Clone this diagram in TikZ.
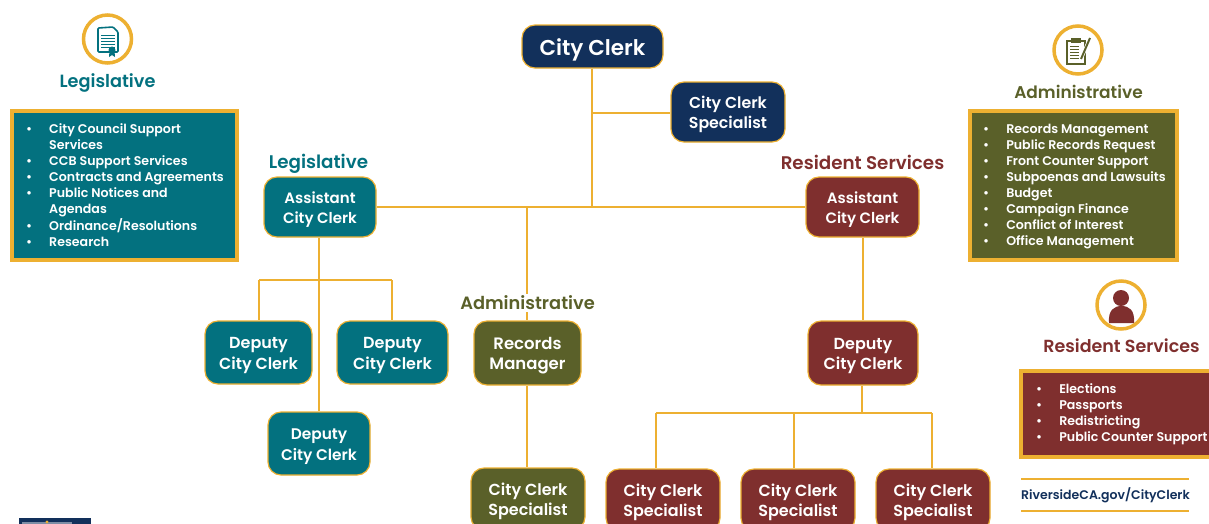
\documentclass[tikz,border=0pt]{standalone}
\usepackage{fontspec}
\setmainfont{Poppins}[BoldFont=Poppins SemiBold]
\definecolor{tealbox}{HTML}{03717F}
\definecolor{olivebox}{HTML}{5A6029}
\definecolor{maroonbox}{HTML}{7F2F2E}
\definecolor{navybox}{HTML}{12305B}
\definecolor{goldline}{HTML}{EDB031}
\tikzset{
  orgbox/.style={draw=goldline, line width=1.2pt, rounded corners=13pt, text=white, align=center, inner sep=0pt, text height=36pt, text depth=3pt},
  size/.style={font=\bfseries\fontsize{#1}{20.5}\selectfont},
  link/.style={draw=goldline, line width=1.5pt},
  panel/.style={draw=goldline, line width=4pt, inner sep=0pt},
  panellist/.style={text=white, anchor=north west, inner sep=0pt, font=\fontsize{12.6}{16}\bfseries\selectfont},
  heading/.style={inner sep=0pt, font=\bfseries\fontsize{#1}{20}\selectfont},
  ring/.style={draw=goldline, line width=3.5pt, fill=white, circle, minimum size=48pt, inner sep=0pt}
}
\begin{document}
\begin{tikzpicture}[x=1pt,y=-1pt]
      \useasboundingbox (0,0) rectangle (1209,523);

      % boxes of the chart
      \node(CC)[orgbox, size=21.5, fill=navybox, minimum width=141pt, minimum height=43pt, text height=19pt, text depth=2pt] at (592.5,46.5) {City Clerk};
      \node(CS)[orgbox, size=15.8, fill=navybox, minimum width=114pt, minimum height=60pt] at (728,112) {City Clerk\\Specialist};

      \node(AL)[orgbox, size=15, fill=tealbox, minimum width=112pt, minimum height=60pt] at (320,207) {Assistant\\City Clerk};
      \node(D1)[orgbox, size=16, fill=tealbox, minimum width=107pt, minimum height=63pt] at (258.5,352.5) {Deputy\\City Clerk};
      \node(D2)[orgbox, size=16, fill=tealbox, minimum width=111pt, minimum height=63pt] at (392.5,352.5) {Deputy\\City Clerk};
      \node(D3)[orgbox, size=15.4, fill=tealbox, minimum width=102pt, minimum height=63pt] at (319,443.5) {Deputy\\City Clerk};

      \node(RM)[orgbox, size=16.5, fill=olivebox, minimum width=107pt, minimum height=64pt] at (527.5,353) {Records\\Manager};
      \node(OS)[orgbox, size=16, fill=olivebox, minimum width=114pt, minimum height=62pt] at (528,499) {City Clerk\\Specialist};

      \node(AR)[orgbox, size=15, fill=maroonbox, minimum width=113pt, minimum height=60pt] at (862.5,207) {Assistant\\City Clerk};
      \node(DR)[orgbox, size=16, fill=maroonbox, minimum width=110pt, minimum height=64pt] at (863,353) {Deputy\\City Clerk};
      \node(S1)[orgbox, size=16, fill=maroonbox, minimum width=114pt, minimum height=62pt] at (663,500) {City Clerk\\Specialist};
      \node(S2)[orgbox, size=16, fill=maroonbox, minimum width=114pt, minimum height=62pt] at (798,500) {City Clerk\\Specialist};
      \node(S3)[orgbox, size=16, fill=maroonbox, minimum width=114pt, minimum height=62pt] at (933,500) {City Clerk\\Specialist};

      % junctions
      \coordinate(J1) at (592,113);
      \coordinate(J2) at (592,207);
      \coordinate(J3) at (527,207);
      \coordinate(J4) at (319,280);
      \coordinate(J5) at (259,280);
      \coordinate(J6) at (392,280);
      \coordinate(J7) at (862,413);
      \coordinate(J8) at (656,413);
      \coordinate(J9) at (794,413);
      \coordinate(J10) at (932,413);

      % connectors
      \draw[link] (CC.south -| J2) -- (J2);
      \draw[link] (J1) -- (J1 -| CS.west);
      \draw[link] (AL.east) -- (AR.west);
      \draw[link] (J3) -- (RM.north -| J3);
      \draw[link] (AL.south -| J4) -- (D3.north -| J4);
      \draw[link] (J5) -- (J6);
      \draw[link] (J5) -- (D1.north -| J5);
      \draw[link] (J6) -- (D2.north -| J6);
      \draw[link] (RM.south -| J3) -- (OS.north -| J3);
      \draw[link] (AR.south -| DR.north) -- (DR.north);
      \draw[link] (DR.south -| J7) -- (J7);
      \draw[link] (J8) -- (J10);
      \draw[link] (J8) -- (S1.north -| J8);
      \draw[link] (J9) -- (S2.north -| J9);
      \draw[link] (J10) -- (S3.north -| J10);

      % labels above the boxes
      \node(HL)[heading=18.3, text=tealbox] at (318.5,164) {Legislative};
      \node(HA)[heading=17.8, text=olivebox, fill=white, inner ysep=2pt] at (527.5,303) {Administrative};
      \node(HR)[heading=18.3, text=maroonbox] at (862.5,162) {Resident Services};

      % left panel
      \node(RL)[ring] at (107.5,39) {};
      \node(TL)[heading=17.7, text=tealbox] at (107.5,83) {Legislative};
      \node(PL)[panel, fill=tealbox, minimum width=225pt, minimum height=149pt] at (124,185) {};
      \node(LL)[panellist] at (26,122.5) {\begin{tabular}{@{}l@{\hskip 17pt}l@{}}
        \textbullet & City Council Support\\
        & Services\\
        \textbullet & CCB Support Services\\
        \textbullet & Contracts and Agreements\\
        \textbullet & Public Notices and\\
        & Agendas\\
        \textbullet & Ordinance/Resolutions\\
        \textbullet & Research
      \end{tabular}};
      \draw[tealbox, line width=1.6pt, fill=white, rounded corners=1pt] (98,28) -- (113,27) -- (118,32) -- (118,52) -- (98,52) -- cycle;
      \foreach \y in {35,38,41,44,47} {
        \draw[tealbox, line width=0.9pt] (101,\y) -- (115,\y);
      }
      \fill[tealbox] (112,50) circle [radius=3.5];
      \fill[tealbox] (109.5,51) -- (114.5,51) -- (115,57) -- (112,55) -- (109,57) -- cycle;

      % right panel, administrative
      \node(RA)[ring] at (1078,50) {};
      \node(TA)[heading=17, text=olivebox] at (1078.5,92) {Administrative};
      \node(PA)[panel, fill=olivebox, minimum width=207pt, minimum height=149pt] at (1073,185) {};
      \node(LA)[panellist] at (983,122.5) {\begin{tabular}{@{}l@{\hskip 17pt}l@{}}
        \textbullet & Records Management\\
        \textbullet & Public Records Request\\
        \textbullet & Front Counter Support\\
        \textbullet & Subpoenas and Lawsuits\\
        \textbullet & Budget\\
        \textbullet & Campaign Finance\\
        \textbullet & Conflict of Interest\\
        \textbullet & Office Management
      \end{tabular}};
      \draw[olivebox, line width=1.5pt] (1067,41) -- (1085,41) -- (1085,64) -- (1067,64) -- cycle;
      \fill[olivebox] (1071,38) rectangle (1081,43);
      \foreach \y in {46,49,52,55,58} {
        \draw[olivebox, line width=1pt] (1070,\y) -- (1079,\y);
      }
      \draw[white, line width=3.5pt] (1081,59) -- (1090,38);
      \draw[olivebox, line width=2pt] (1081,59) -- (1090,38);

      % right panel, resident services
      \node(RR)[ring] at (1121,305) {};
      \node(TR)[heading=17.5, text=maroonbox] at (1121.5,346) {Resident Services};
      \node(PR)[panel, fill=maroonbox, minimum width=200pt, minimum height=86pt] at (1121,413.5) {};
      \node(LR)[panellist] at (1036,382.5) {\begin{tabular}{@{}l@{\hskip 17pt}l@{}}
        \textbullet & Elections\\
        \textbullet & Passports\\
        \textbullet & Redistricting\\
        \textbullet & Public Counter Support
      \end{tabular}};
      \fill[maroonbox] (1121,298) circle [radius=8];
      \fill[maroonbox] (1109,323) .. controls (1108,310) and (1114,306) .. (1121.5,306) .. controls (1129,306) and (1135,310) .. (1134,323) -- cycle;

      % address
      \coordinate(W1) at (1021,479);
      \coordinate(W2) at (1189,479);
      \coordinate(W3) at (1021,511);
      \coordinate(W4) at (1189,511);
      \draw[goldline, line width=1.2pt] (W1) -- (W2);
      \draw[goldline, line width=1.2pt] (W3) -- (W4);
      \node(WEB)[text=navybox, inner sep=0pt, font=\bfseries\fontsize{12.5}{15}\selectfont] at (1105.5,495.5) {RiversideCA.gov/CityClerk};

      % corner of the seal
      \fill[navybox] (19,518) rectangle (91,530);
      \fill[navybox!55!white] (22,522) rectangle (72,530);
      \fill[goldline] (47,522) circle [radius=1.6];
\end{tikzpicture}
\end{document}
